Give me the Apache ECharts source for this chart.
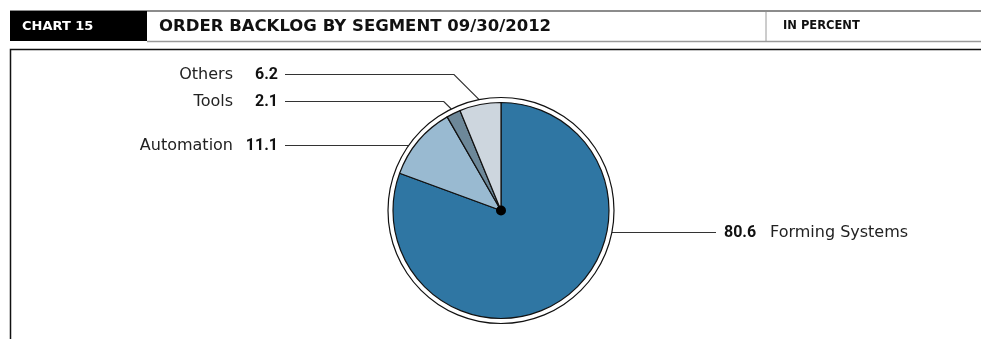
<!DOCTYPE html>
<html>
<head>
<meta charset="utf-8">
<title>Order backlog by segment</title>
<script src="https://cdn.jsdelivr.net/npm/echarts@6/dist/echarts.min.js"></script>
<style>
  html, body { margin: 0; padding: 0; background: #fff; }
  #chart { width: 981px; height: 339px; }
</style>
</head>
<body>
<div id="chart"></div>
<script>
// Order backlog by segment, 09/30/2012, in percent
const segments = ['Forming Systems', 'Automation', 'Tools', 'Others'];
const shares = [80.6, 11.1, 2.1, 6.2];
const segmentColors = ['#2f76a3', '#99bad1', '#6d8899', '#cdd6de'];

// Label placement (pixels relative to the pie centre)
const labelRowOffset = [22, -65, -109, -136];
const leaderEndOffset = [215, -216, -216, -216];
const leaderKinked = [false, false, true, true];

const cx = 501, cy = 210.5;
const pieR = 108;
const ringR = 113;

const total = shares.reduce((a, b) => a + b, 0);
const cumulative = [];
shares.reduce((acc, v, i) => { cumulative[i] = acc; return acc + v; }, 0);

const chart = echarts.init(document.getElementById('chart'), null, { renderer: 'canvas' });

const baseFont = 'DejaVu Sans';

function placeLabel(params) {
  const i = params.dataIndex;
  const side = leaderEndOffset[i] > 0 ? 1 : -1;
  const rowY = cy + labelRowOffset[i];
  let start, knee;
  if (leaderKinked[i]) {
    const theta = (cumulative[i] + shares[i] / 2) / total * 2 * Math.PI;
    start = [cx + ringR * Math.sin(theta), cy - ringR * Math.cos(theta)];
    knee = [start[0] + side * Math.abs(start[1] - rowY), rowY];
  } else {
    const dy = rowY - cy;
    start = [cx + side * Math.sqrt(ringR * ringR - dy * dy), rowY];
    knee = start;
  }
  const end = [cx + leaderEndOffset[i], rowY];
  return {
    x: end[0] + side * (side > 0 ? 8 : 7),
    y: rowY,
    align: side > 0 ? 'left' : 'right',
    verticalAlign: 'middle',
    labelLinePoints: [start, knee, end]
  };
}

const option = {
  animation: false,
  graphic: [
    { type: 'line', shape: { x1: 10, y1: 11, x2: 981, y2: 11 }, style: { stroke: '#8c8c8c', lineWidth: 2 }, silent: true },
    { type: 'rect', shape: { x: 10, y: 11, width: 137, height: 30 }, style: { fill: '#000' }, silent: true },
    { type: 'text', x: 22, y: 26.5, style: { text: 'CHART 15', fill: '#fff', font: 'bold 13px "DejaVu Sans"', verticalAlign: 'middle' }, silent: true },
    { type: 'text', x: 159, y: 26.5, style: { text: 'ORDER BACKLOG BY SEGMENT 09/30/2012', fill: '#111', font: 'bold 16.5px "DejaVu Sans"', verticalAlign: 'middle' }, silent: true },
    { type: 'line', shape: { x1: 766, y1: 12, x2: 766, y2: 41 }, style: { stroke: '#9a9a9a', lineWidth: 1 }, silent: true },
    { type: 'text', x: 783, y: 26.5, style: { text: 'IN PERCENT', fill: '#111', font: 'bold 11.5px "DejaVu Sans"', verticalAlign: 'middle' }, silent: true },
    { type: 'line', shape: { x1: 147, y1: 41.5, x2: 981, y2: 41.5 }, style: { stroke: '#9a9a9a', lineWidth: 1.5 }, silent: true },
    { type: 'polyline', shape: { points: [[981, 49.5], [10.5, 49.5], [10.5, 339]] }, style: { stroke: '#111', lineWidth: 1.5, fill: null }, silent: true }
  ],
  series: [
    {
      // thin outer ring around the pie
      type: 'pie',
      center: [cx, cy],
      radius: [ringR - 0.6, ringR + 0.6],
      silent: true,
      label: { show: false },
      labelLine: { show: false },
      itemStyle: { color: '#111' },
      data: [{ value: 1 }]
    },
    {
      type: 'pie',
      center: [cx, cy],
      radius: [0, pieR],
      startAngle: 90,
      clockwise: true,
      silent: true,
      avoidLabelOverlap: false,
      emphasis: { disabled: true },
      itemStyle: { borderColor: '#111', borderWidth: 1.2 },
      data: segments.map((name, i) => ({
        name,
        value: shares[i],
        itemStyle: { color: segmentColors[i] }
      })),
      label: {
        show: true,
        position: 'outside',
        color: '#222',
        formatter: (p) => {
          const v = p.value.toFixed(1);
          return leaderEndOffset[p.dataIndex] > 0
            ? '{vr|' + v + '}{n|' + p.name + '}'
            : '{n|' + p.name + '}{vl|' + v + '}';
        },
        rich: {
          n: { fontFamily: baseFont, fontSize: 16, color: '#222' },
          vl: { fontFamily: 'Roboto', fontWeight: 'bold', fontSize: 16, color: '#111', width: 45, align: 'right' },
          vr: { fontFamily: 'Roboto', fontWeight: 'bold', fontSize: 16, color: '#111', width: 46, align: 'left' }
        }
      },
      labelLine: {
        show: true,
        lineStyle: { color: '#333', width: 1.2 }
      },
      labelLayout: placeLabel
    },
    {
      // centre dot
      type: 'pie',
      center: [cx, cy],
      radius: [0, 5],
      silent: true,
      label: { show: false },
      labelLine: { show: false },
      itemStyle: { color: '#000' },
      data: [{ value: 1 }]
    }
  ]
};

chart.setOption(option);
</script>
</body>
</html>
